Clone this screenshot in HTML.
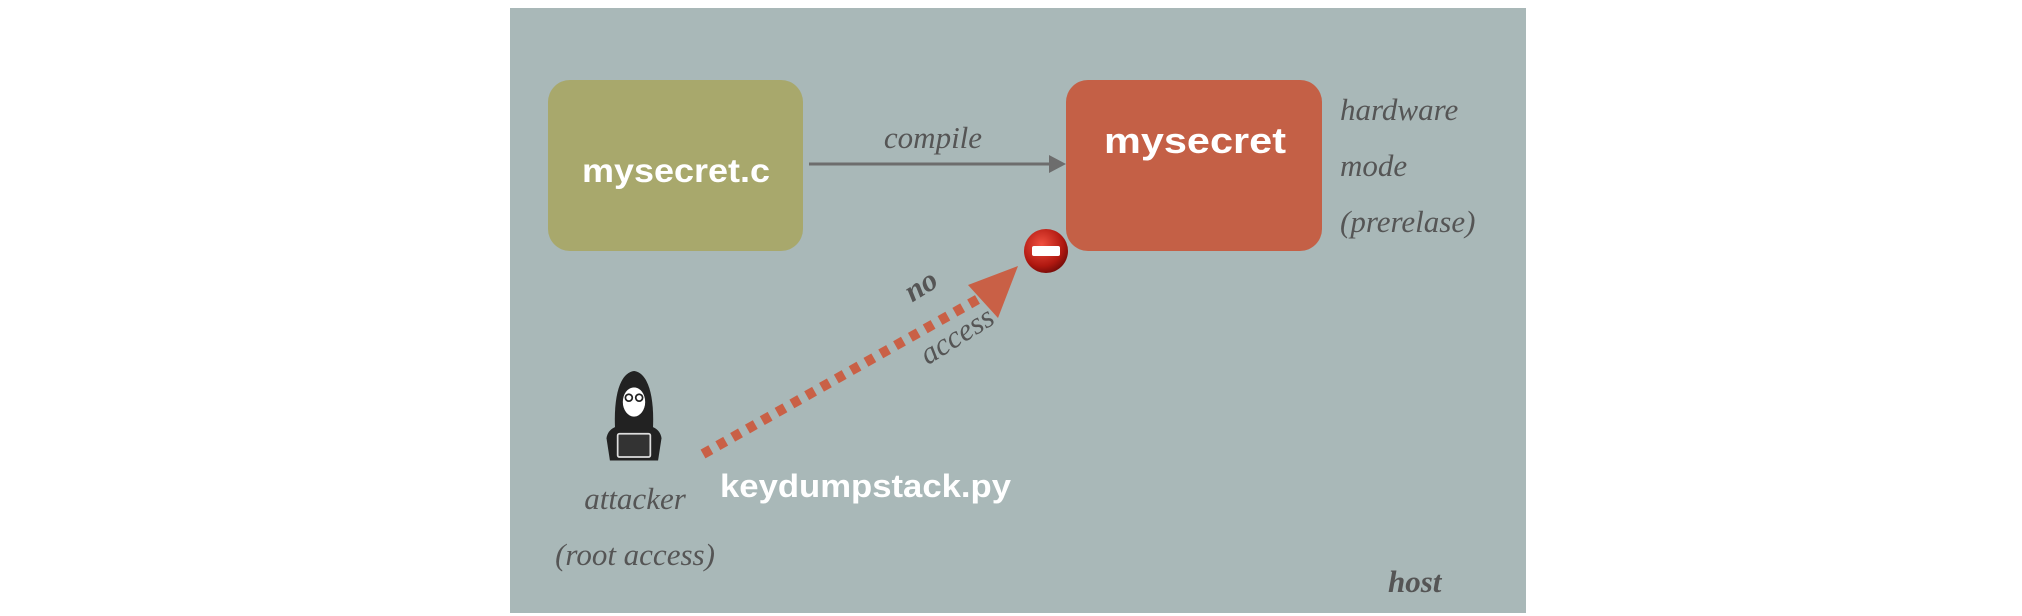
<!DOCTYPE html>
<html><head><meta charset="utf-8"><style>
html,body{margin:0;padding:0;background:#fff;width:2022px;height:616px;overflow:hidden}
</style></head><body>
<svg width="2022" height="616" viewBox="0 0 2022 616" xmlns="http://www.w3.org/2000/svg">
<defs>
<radialGradient id="st" cx="0.4" cy="0.35" r="0.7">
<stop offset="0" stop-color="#f05040"/><stop offset="0.7" stop-color="#b01810"/><stop offset="1" stop-color="#700a08"/>
</radialGradient>
</defs>
<rect x="510" y="8" width="1016" height="605" fill="#a9b8b8"/>
<rect x="548" y="80" width="255" height="171" rx="22" fill="#a8a86c"/>
<rect x="1066" y="80" width="256" height="171" rx="22" fill="#c46046"/>
<text x="676" y="182" text-anchor="middle" font-family="Liberation Sans, sans-serif" font-weight="bold" font-size="33" fill="#fff" textLength="188" lengthAdjust="spacingAndGlyphs">mysecret.c</text>
<text x="1195" y="153" text-anchor="middle" font-family="Liberation Sans, sans-serif" font-weight="bold" font-size="36" fill="#fff" textLength="182" lengthAdjust="spacingAndGlyphs">mysecret</text>
<line x1="809" y1="164" x2="1052" y2="164" stroke="#6d6d6d" stroke-width="3"/>
<polygon points="1066,164 1049,155 1049,173" fill="#6d6d6d"/>
<text x="933" y="148" text-anchor="middle" font-family="Liberation Serif, serif" font-style="italic" font-size="31" fill="#555">compile</text>
<g font-family="Liberation Serif, serif" font-style="italic" font-size="31" fill="#555">
<text x="1340" y="120">hardware</text>
<text x="1340" y="176">mode</text>
<text x="1340" y="232">(prerelase)</text>
<text x="1388" y="592" font-weight="bold">host</text>
<text x="635" y="509" text-anchor="middle">attacker</text>
<text x="635" y="565" text-anchor="middle">(root access)</text>
</g>
<line x1="703" y1="454" x2="980" y2="298" stroke="#c96046" stroke-width="10" stroke-dasharray="9 8"/>
<polygon points="1018,266 998,318 968,285" fill="#c96046"/>
<g transform="translate(1046,251)">
<circle r="22" fill="url(#st)"/>
<rect x="-14" y="-5" width="28" height="10" rx="2" fill="#fff"/>
</g>
<g font-family="Liberation Serif, serif" font-style="italic" font-size="31" fill="#555">
<text transform="translate(926,294) rotate(-32)" text-anchor="middle" font-weight="bold">no</text>
<text transform="translate(962,344) rotate(-32)" text-anchor="middle">access</text>
</g>
<text x="720" y="497" font-family="Liberation Sans, sans-serif" font-weight="bold" font-size="32" fill="#fff" textLength="291" lengthAdjust="spacingAndGlyphs">keydumpstack.py</text>
<g transform="translate(634,371) scale(0.86) translate(0,-392)">
<path d="M-22,460 C-24,420 -16,394 0,392 C16,394 24,420 22,460 Z" fill="#222"/>
<ellipse cx="0" cy="428" rx="13" ry="17" fill="#fff"/>
<path d="M-13,418 Q0,404 13,418 L13,412 Q0,400 -13,412Z" fill="#222"/>
<circle cx="-6" cy="423" r="4" fill="none" stroke="#222" stroke-width="2"/>
<circle cx="6" cy="423" r="4" fill="none" stroke="#222" stroke-width="2"/>
<path d="M-28,496 L-32,470 C-30,458 -20,454 0,454 C20,454 30,458 32,470 L28,496 Z" fill="#222"/>
<rect x="-19" y="465" width="38" height="27" rx="2" fill="#333" stroke="#ddd" stroke-width="2"/>
</g>
</svg>
</body></html>
